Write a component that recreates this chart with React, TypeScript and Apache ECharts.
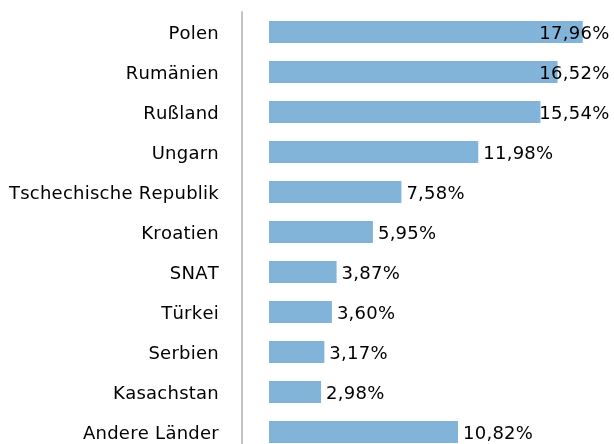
import React, { useEffect, useRef } from "react";
import * as echarts from "echarts";

const categories = [
  "Polen",
  "Rumänien",
  "Rußland",
  "Ungarn",
  "Tschechische Republik",
  "Kroatien",
  "SNAT",
  "Türkei",
  "Serbien",
  "Kasachstan",
  "Andere Länder",
];
const values = [17.96, 16.52, 15.54, 11.98, 7.58, 5.95, 3.87, 3.6, 3.17, 2.98, 10.82];

const FONT = "DejaVu Sans";
const FS = 18;
const RIGHT_LIMIT = 609.5;
const LABEL_DIST = 5;
const LS = 0.25;

const fmt = (v: number) => v.toFixed(2).replace(".", ",") + "%";

export default function App() {
  const ref = useRef<HTMLDivElement>(null);
  useEffect(() => {
    document.body.style.margin = "0";
    const st = document.createElement("style");
    st.textContent = `#chartbox svg text { font-kerning: none; letter-spacing: ${LS}px; }`;
    document.head.appendChild(st);
    const chart = echarts.init(ref.current!, null, { renderer: "svg" });
    const makeData = (offsets: number[]) =>
      values.map((v, i) => ({
        value: v,
        label: { offset: [offsets[i], 0] },
      }));
    const option: any = {
      animation: false,
      grid: { left: 269, right: 13.1, top: 12, height: 440, containLabel: false },
      xAxis: {
        type: "value",
        min: 0,
        max: 19,
        show: false,
      },
      yAxis: {
        type: "category",
        data: categories,
        inverse: true,
        offset: 27,
        axisLine: { show: true, onZero: false, lineStyle: { color: "#c4c4c4", width: 2 } },
        axisTick: { show: false },
        splitLine: { show: false },
        axisLabel: { color: "#000", fontSize: FS, fontFamily: FONT, margin: 23 },
      },
      series: [
        {
          type: "bar",
          data: makeData(values.map(() => 0)),
          barWidth: 22,
          itemStyle: { color: "#82b4da" },
          label: {
            show: true,
            position: "right",
            distance: LABEL_DIST,
            color: "#000",
            fontSize: FS,
            fontFamily: FONT,
            formatter: (p: any) => fmt(p.value),
          },
        },
      ],
    };
    chart.setOption(option);
    // keep labels inside the picture, as in the reference
    const canvas = document.createElement("canvas");
    const ctx = canvas.getContext("2d")! as any;
    ctx.font = `${FS}px "${FONT}"`;
    ctx.fontKerning = "none";
    ctx.letterSpacing = `${LS}px`;
    const offsets = values.map((v, i) => {
      const end = chart.convertToPixel({ gridIndex: 0 } as any, [v, i])[0];
      const w = ctx.measureText(fmt(v)).width;
      const start = end + LABEL_DIST;
      return start + w > RIGHT_LIMIT ? RIGHT_LIMIT - w - start : 0;
    });
    chart.setOption({ series: [{ data: makeData(offsets) }] });
    return () => {
      chart.dispose();
      st.remove();
    };
  }, []);
  return (
    <div
      id="chartbox"
      ref={ref}
      style={{ position: "fixed", left: 0, top: 0, width: 614, height: 460 }}
    />
  );
}
